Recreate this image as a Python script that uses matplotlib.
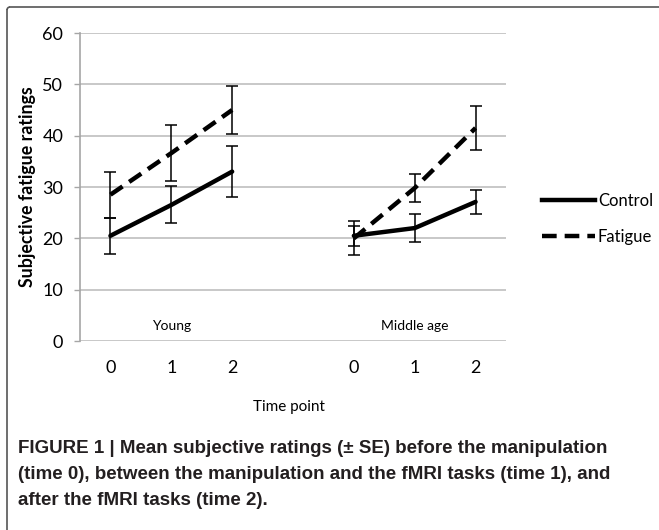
import matplotlib
matplotlib.use("Agg")
import matplotlib.pyplot as plt
from matplotlib.lines import Line2D
from matplotlib.patches import Arc

# ---- data ----
categories = ["0", "1", "2", "", "0", "1", "2"]
young_pos = [0, 1, 2]
middle_pos = [4, 5, 6]

young_control = [20.5, 26.5, 33.0]
young_control_se = [3.5, 3.6, 5.0]
young_fatigue = [28.5, 36.6, 45.0]
young_fatigue_se = [4.5, 5.4, 4.7]

middle_control = [20.5, 22.0, 27.1]
middle_control_se = [1.9, 2.7, 2.4]
middle_fatigue = [20.0, 29.8, 41.5]
middle_fatigue_se = [3.3, 2.7, 4.2]

group_labels = ["Young", "Middle age"]
series_labels = ["Control", "Fatigue"]
yticks = [0, 10, 20, 30, 40, 50, 60]

caption_lines = [
    "FIGURE 1 | Mean subjective ratings (\u00b1 SE) before the manipulation",
    "(time 0), between the manipulation and the fMRI tasks (time 1), and",
    "after the fMRI tasks (time 2).",
]

# ---- figure ----
W, H = 659, 530
fig = plt.figure(figsize=(W / 100, H / 100), dpi=100)
plt.rcParams['font.family'] = ['Lato', 'DejaVu Sans']

ax = fig.add_axes([80 / W, 1 - 341 / H, (506 - 80) / W, (341 - 33) / H])

lw = 3.2
dash = (0, (3.3, 1.8))
err_kw = dict(ecolor="black", elinewidth=1.1, capsize=4, capthick=1.1)

for pos, vals, se in [(young_pos, young_control, young_control_se),
                      (middle_pos, middle_control, middle_control_se)]:
    ax.errorbar(pos, vals, yerr=se, fmt="none", zorder=3, **err_kw)
    ax.plot(pos, vals, color="black", lw=lw, solid_capstyle="round", zorder=4)

for pos, vals, se in [(young_pos, young_fatigue, young_fatigue_se),
                      (middle_pos, middle_fatigue, middle_fatigue_se)]:
    ax.errorbar(pos, vals, yerr=se, fmt="none", zorder=3, **err_kw)
    ax.plot(pos, vals, color="black", lw=lw, ls=dash,
            dash_capstyle="butt", zorder=4)

ax.set_xlim(-0.5, 6.5)
ax.set_ylim(0, 60)
ax.set_yticks(yticks)
ax.set_xticks(range(len(categories)))
ax.set_xticklabels(categories)
ax.tick_params(axis="x", length=0, labelsize=13, pad=14, colors="black")
ax.tick_params(axis="y", length=4, width=1, color="#A6A6A6", labelsize=13, pad=8)
ax.grid(axis="y", color="#BFBFBF", lw=1.2)
ax.set_axisbelow(True)
for s in ["top", "right", "bottom"]:
    ax.spines[s].set_visible(False)
ax.spines["left"].set_color("#A6A6A6")
ax.spines["left"].set_linewidth(1.2)

ax.text(1, 2.9, group_labels[0], ha="center", va="center", fontsize=10)
ax.text(5, 2.9, group_labels[1], ha="center", va="center", fontsize=10)

ax.set_ylabel("Subjective fatigue ratings", fontsize=12.8, fontweight="bold", labelpad=5)
ax.set_xlabel("Time point", fontsize=11, va="center")
ax.xaxis.set_label_coords((289 - 80) / (506 - 80), -(407 - 341) / (341 - 33))

handles = [Line2D([0], [0], color="black", lw=lw),
           Line2D([0], [0], color="black", lw=lw, ls=dash, dash_capstyle="butt")]
fig.legend(handles, series_labels, loc="center left",
           bbox_to_anchor=(527 / W, 1 - 219 / H), frameon=False, fontsize=12,
           handlelength=3.2, handletextpad=0.15, labelspacing=1.2)

for i, line in enumerate(caption_lines):
    fig.text(18 / W, 1 - (453 + 26 * i) / H, line, ha="left", va="baseline",
             fontsize=13.5, fontweight="bold",
             family=["Liberation Sans Narrow", "Liberation Sans", "DejaVu Sans"],
             color="#231F20")

# partial frame (top and left border)
fig.add_artist(Line2D([7 / W, 7 / W], [0, 1 - 10 / H], transform=fig.transFigure,
                      color="#555555", lw=1.2))
fig.add_artist(Line2D([10 / W, 1], [1 - 7 / H, 1 - 7 / H], transform=fig.transFigure,
                      color="#555555", lw=1.2))
fig.add_artist(Arc((10 / W, 1 - 10 / H), 6 / W, 6 / H, theta1=90, theta2=180,
                   transform=fig.transFigure, color="#555555", lw=1.2))

fig.savefig("out.png", dpi=100)
